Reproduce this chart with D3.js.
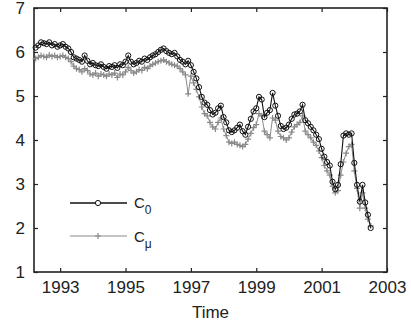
<!DOCTYPE html>
<html>
<head>
<meta charset="utf-8">
<script src="https://cdn.jsdelivr.net/npm/d3@7"></script>
<style>
  body { margin: 0; background: white; }
  text { font-family: "Liberation Sans", Arial, sans-serif; }
</style>
</head>
<body>
<div id="chart"></div>
<script>
// monthly series, starting April 1992
let startYear = 1992.25;

let c0 = [
  6.10, 6.15, 6.22, 6.20, 6.18, 6.22, 6.15, 6.18, 6.12,
  6.15, 6.18, 6.12, 6.08, 6.00, 5.88, 5.85, 5.82, 5.78, 5.92, 5.80, 5.72,
  5.75, 5.70, 5.68, 5.72, 5.66, 5.62, 5.68, 5.66, 5.70, 5.64, 5.72, 5.70,
  5.78, 5.92, 5.78, 5.72, 5.75, 5.80, 5.78, 5.85, 5.82, 5.88, 5.92, 5.95,
  6.00, 6.05, 6.08, 6.02, 5.98, 5.95, 5.98, 5.90, 5.82, 5.78, 5.72, 5.80,
  5.70, 5.55, 5.40, 5.20, 4.98, 4.85, 4.80, 4.68, 4.58, 4.62, 4.72, 4.78,
  4.52, 4.40, 4.22, 4.18, 4.22, 4.28, 4.35, 4.20, 4.12, 4.30, 4.48, 4.65,
  4.72, 4.98, 4.92, 4.52, 4.62, 4.68, 5.07, 4.78, 4.55, 4.32, 4.25, 4.28,
  4.35, 4.48, 4.58, 4.60, 4.65, 4.80, 4.45, 4.38, 4.30, 4.22, 4.12, 4.02,
  3.80, 3.62, 3.50, 3.42, 3.05, 2.88, 2.98, 3.45, 4.10, 4.15, 4.12, 4.15,
  3.48, 2.98, 2.60, 2.98, 2.58, 2.30, 2.00
];

let cmu = [
  5.85, 5.88, 5.92, 5.90, 5.88, 5.93, 5.90, 5.92, 5.88,
  5.90, 5.92, 5.88, 5.85, 5.78, 5.68, 5.62, 5.60, 5.55, 5.62, 5.58, 5.50,
  5.48, 5.52, 5.45, 5.50, 5.48, 5.45, 5.50, 5.48, 5.52, 5.42, 5.50, 5.48,
  5.55, 5.65, 5.58, 5.52, 5.55, 5.60, 5.58, 5.65, 5.62, 5.68, 5.72, 5.75,
  5.78, 5.80, 5.82, 5.78, 5.75, 5.72, 5.70, 5.68, 5.62, 5.55, 5.48, 5.05,
  5.45, 5.30, 5.15, 4.98, 4.75, 4.60, 4.55, 4.40, 4.30, 4.25, 4.40, 4.50,
  4.25, 4.10, 3.95, 3.92, 3.95, 3.90, 3.88, 3.85, 3.90, 4.02, 4.15, 4.28,
  4.35, 4.60, 4.55, 4.20, 4.12, 4.05, 4.50, 4.45, 4.20, 4.08, 4.05, 4.00,
  4.05, 4.18, 4.30, 4.35, 4.40, 4.55, 4.20, 4.12, 4.05, 3.95, 3.88, 3.75,
  3.60, 3.42, 3.30, 3.20, 2.95, 2.80, 2.85, 3.20, 3.50, 3.70, 3.85, 3.90,
  3.30, 2.90, 2.45, 2.80, 2.45, 2.20, 2.05
];

let xTicks = [1993, 1995, 1997, 1999, 2001, 2003];
let yTicks = [1, 2, 3, 4, 5, 6, 7];

let width = 411, height = 324;
let plotLeft = 34, plotRight = 387, plotTop = 8, plotBottom = 272;

let svg = d3.select("#chart")
  .append("svg")
    .attr("width", width)
    .attr("height", height)
    .style("background-color", "white");

let x = d3.scaleLinear().domain([1992.2, 2003]).range([plotLeft, plotRight]);
let y = d3.scaleLinear().domain([1, 7]).range([plotBottom, plotTop]);

function timeAt(d, i) {
  return startYear + i / 12;
}

// axes, ticks point inward on all four sides
let axisColor = "#222";
function styleAxis(g) {
  g.select(".domain").remove();
  g.selectAll("line").attr("stroke", axisColor).attr("stroke-width", 1.2);
  g.selectAll("text")
    .attr("fill", "#222")
    .style("font-size", "17px");
}

svg.append("g")
  .attr("transform", "translate(0," + plotBottom + ")")
  .call(d3.axisBottom(x).tickValues(xTicks).tickFormat(d3.format("d"))
    .tickSizeInner(-4).tickSizeOuter(0).tickPadding(9))
  .call(styleAxis);

svg.append("g")
  .attr("transform", "translate(0," + plotTop + ")")
  .call(d3.axisTop(x).tickValues(xTicks).tickFormat("")
    .tickSizeInner(-4).tickSizeOuter(0))
  .call(styleAxis);

svg.append("g")
  .attr("transform", "translate(" + plotLeft + ",0)")
  .call(d3.axisLeft(y).tickValues(yTicks).tickFormat(d3.format("d"))
    .tickSizeInner(-4).tickSizeOuter(0).tickPadding(9))
  .call(styleAxis);

svg.append("g")
  .attr("transform", "translate(" + plotRight + ",0)")
  .call(d3.axisRight(y).tickValues(yTicks).tickFormat("")
    .tickSizeInner(-4).tickSizeOuter(0))
  .call(styleAxis);

svg.append("rect")
  .attr("x", plotLeft)
  .attr("y", plotTop)
  .attr("width", plotRight - plotLeft)
  .attr("height", plotBottom - plotTop)
  .attr("fill", "none")
  .attr("stroke", axisColor)
  .attr("stroke-width", 1.6);

svg.append("text")
  .attr("x", (plotLeft + plotRight) / 2)
  .attr("y", 318)
  .attr("text-anchor", "middle")
  .attr("fill", "#222")
  .style("font-size", "17px")
  .text("Time");

// C_mu series (grey, plus markers)
let grey = "#8a8a8a";
let line = d3.line().x((d, i) => x(timeAt(d, i))).y(d => y(d));

svg.append("path")
  .datum(cmu)
  .attr("d", line)
  .attr("fill", "none")
  .attr("stroke", grey)
  .attr("stroke-width", 1);

function plusPath(cx, cy, s) {
  return "M" + (cx - s) + "," + cy + "H" + (cx + s) + "M" + cx + "," + (cy - s) + "V" + (cy + s);
}

svg.append("g").selectAll("path").data(cmu).enter().append("path")
  .attr("d", (d, i) => plusPath(x(timeAt(d, i)), y(d), 3))
  .attr("stroke", grey)
  .attr("stroke-width", 1.2)
  .attr("fill", "none");

// C_0 series (black, circle markers)
svg.append("path")
  .datum(c0)
  .attr("d", line)
  .attr("fill", "none")
  .attr("stroke", "#111")
  .attr("stroke-width", 1.1);

svg.append("g").selectAll("circle").data(c0).enter().append("circle")
  .attr("cx", (d, i) => x(timeAt(d, i)))
  .attr("cy", d => y(d))
  .attr("r", 2.6)
  .attr("fill", "none")
  .attr("stroke", "#111")
  .attr("stroke-width", 1);

// legend, no box
let legend = svg.append("g");

legend.append("line")
  .attr("x1", 70).attr("x2", 127).attr("y1", 203).attr("y2", 203)
  .attr("stroke", "#111").attr("stroke-width", 1.4);
legend.append("circle")
  .attr("cx", 98).attr("cy", 203).attr("r", 2.6)
  .attr("fill", "white").attr("stroke", "#111").attr("stroke-width", 1);

legend.append("line")
  .attr("x1", 70).attr("x2", 127).attr("y1", 236).attr("y2", 236)
  .attr("stroke", grey).attr("stroke-width", 1.2);
legend.append("path")
  .attr("d", plusPath(98, 236, 3))
  .attr("stroke", grey).attr("stroke-width", 1.2);

let label0 = legend.append("text")
  .attr("x", 134).attr("y", 208)
  .attr("fill", "#222")
  .style("font-size", "15px")
  .text("C");
label0.append("tspan")
  .attr("dy", 6)
  .style("font-size", "12px")
  .text("0");

let labelMu = legend.append("text")
  .attr("x", 134).attr("y", 242)
  .attr("fill", "#222")
  .style("font-size", "15px")
  .text("C");
labelMu.append("tspan")
  .attr("dy", 6)
  .style("font-size", "12px")
  .text("μ");
</script>
</body>
</html>
